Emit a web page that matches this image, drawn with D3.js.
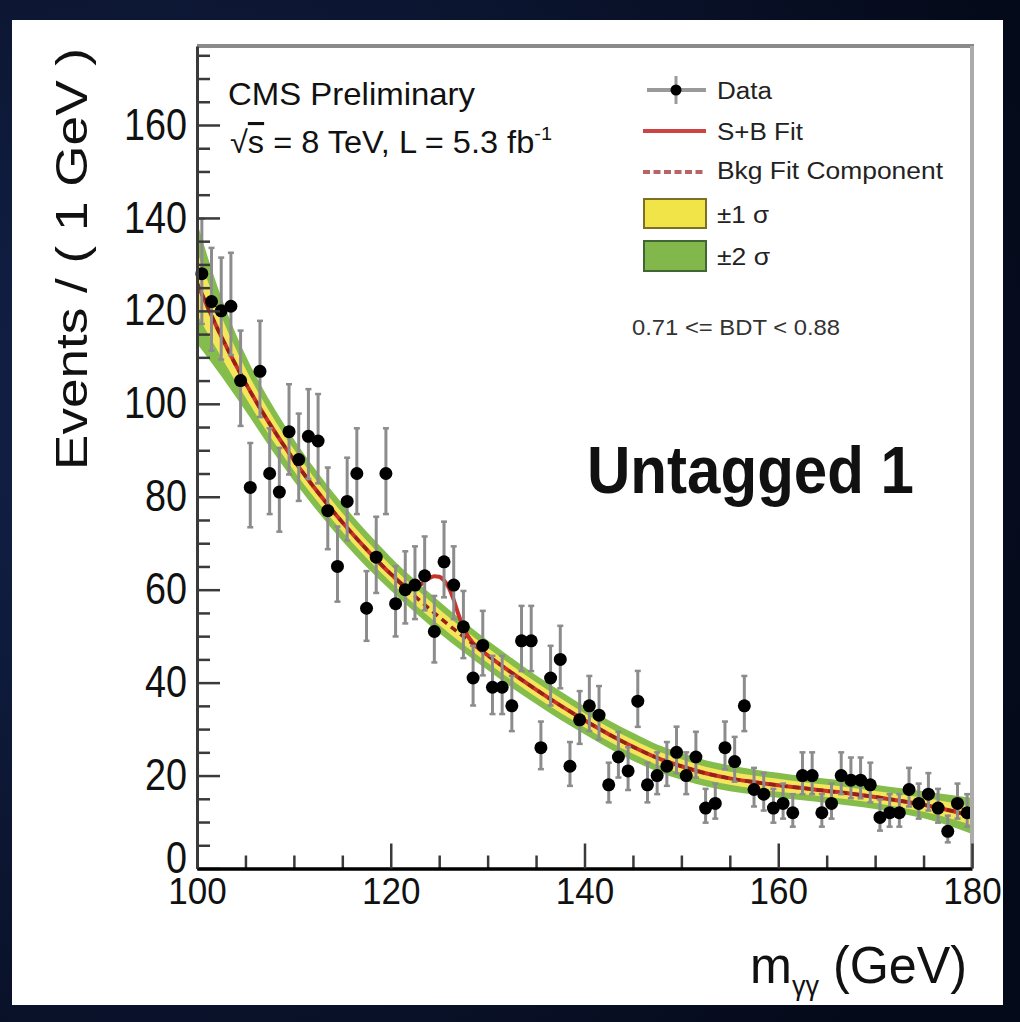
<!DOCTYPE html>
<html>
<head>
<meta charset="utf-8">
<script src="https://cdn.jsdelivr.net/npm/d3@7"></script>
<style>
  html, body { margin: 0; padding: 0; background: #070c20; }
  svg { display: block; }
  text { font-family: "Liberation Sans", Arial, Helvetica, sans-serif; fill: #111; }
</style>
</head>
<body>
<svg id="chart" width="1020" height="1022"></svg>
<script>
// ---- data: diphoton mass spectrum, 1 GeV bins ----
const binCenters = [
  100.5,101.5,102.5,103.5,104.5,105.5,106.5,107.5,108.5,109.5,
  110.5,111.5,112.5,113.5,114.5,115.5,116.5,117.5,118.5,119.5,
  120.5,121.5,122.5,123.5,124.5,125.5,126.5,127.5,128.5,129.5,
  130.5,131.5,132.5,133.5,134.5,135.5,136.5,137.5,138.5,139.5,
  140.5,141.5,142.5,143.5,144.5,145.5,146.5,147.5,148.5,149.5,
  150.5,151.5,152.5,153.5,154.5,155.5,156.5,157.5,158.5,159.5,
  160.5,161.5,162.5,163.5,164.5,165.5,166.5,167.5,168.5,169.5,
  170.5,171.5,172.5,173.5,174.5,175.5,176.5,177.5,178.5,179.5
];
const eventCounts = [
  128,122,120,121,105, 82,107, 85, 81, 94,
   88, 93, 92, 77, 65, 79, 85, 56, 67, 85,
   57, 60, 61, 63, 51, 66, 61, 52, 41, 48,
   39, 39, 35, 49, 49, 26, 41, 45, 22, 32,
   35, 33, 18, 24, 21, 36, 18, 20, 22, 25,
   20, 24, 13, 14, 26, 23, 35, 17, 16, 13,
   14, 12, 20, 20, 12, 14, 20, 19, 19, 18,
   11, 12, 12, 17, 14, 16, 13,  8, 14, 12
];

// background fit component and its uncertainty bands
const fitMass = [100,102.5,105,107.5,110,112.5,115,117.5,120,122.5,125,127.5,130,132.5,135,137.5,
                 140,142.5,145,147.5,150,152.5,155,157.5,160,162.5,165,167.5,170,172.5,175,177.5,180];
const bkgFit = [126,114.5,104.5,95.7,87.9,80.9,74.5,68.7,63.4,58.6,54.1,49.9,45.9,42.1,38.5,35.1,
                31.9,28.9,26.2,23.8,22.0,20.5,19.4,18.6,17.9,17.3,16.7,16.1,15.4,14.6,13.7,12.6,11.3];
const band1Half = [6.8,4.4,3.1,2.6,2.3,2.1,2.0,1.9,1.8,1.8,1.7,1.7,1.6,1.6,1.6,1.6,
                   1.5,1.5,1.5,1.5,1.5,1.4,1.4,1.4,1.4,1.3,1.3,1.3,1.3,1.4,1.5,1.7,2.0];
const band2Half = [13,8.5,6,5,4.5,4.2,4,3.8,3.6,3.5,3.4,3.3,3.2,3.2,3.1,3.1,
                   3.0,3.0,3.0,2.9,2.9,2.8,2.8,2.7,2.7,2.6,2.6,2.6,2.6,2.7,2.9,3.3,3.9];

// signal + background fit in the peak region
const peakMass = [121.5,122,122.5,123,123.5,124,124.5,125,125.5,126,126.5,127,127.5,128,128.5];
const sbPeak   = [60.8,60.6,60.6,61.0,61.8,62.5,62.9,62.8,62.0,60.4,57.8,54.6,51.9,49.9,48.5];

const xTickValues = [100,120,140,160,180];
const yTickValues = [0,20,40,60,80,100,120,140,160];

// ---- layout ----
const svg = d3.select("#chart");
const W = 1020, H = 1022;
const plot = { left: 197, right: 972, top: 46, bottom: 868.5 };

const x = d3.scaleLinear().domain([100, 180]).range([plot.left, plot.right]);
const y = d3.scaleLinear().domain([0, 177]).range([plot.bottom, plot.top]);

const COL = {
  green: "#84bd4b", yellow: "#f4e65a", red: "#c83228", dash: "#94201a",
  err: "#8c8c8c", axis: "#3a3a3a"
};

// dark backdrop with a soft glow
const defs = svg.append("defs");
const bg = defs.append("radialGradient").attr("id", "bgGlow")
  .attr("cx", "15%").attr("cy", "40%").attr("r", "90%");
bg.append("stop").attr("offset", "0%").attr("stop-color", "#13224a");
bg.append("stop").attr("offset", "100%").attr("stop-color", "#050a1a");
svg.append("rect").attr("width", W).attr("height", H).attr("fill", "url(#bgGlow)");

// white canvas
svg.append("rect").attr("x", 12).attr("y", 20).attr("width", 991).attr("height", 985).attr("fill", "#ffffff");

defs.append("clipPath").attr("id", "plotClip").append("rect")
  .attr("x", plot.left).attr("y", plot.top)
  .attr("width", plot.right - plot.left).attr("height", plot.bottom - plot.top);

const g = svg.append("g").attr("clip-path", "url(#plotClip)");

const idx = d3.range(fitMass.length);
const area2 = d3.area().curve(d3.curveMonotoneX)
  .x(i => x(fitMass[i])).y0(i => y(bkgFit[i] - band2Half[i])).y1(i => y(bkgFit[i] + band2Half[i]));
const area1 = d3.area().curve(d3.curveMonotoneX)
  .x(i => x(fitMass[i])).y0(i => y(bkgFit[i] - band1Half[i])).y1(i => y(bkgFit[i] + band1Half[i]));

g.append("path").attr("d", area2(idx)).attr("fill", COL.green);
g.append("path").attr("d", area1(idx)).attr("fill", COL.yellow);

// S+B curve: background outside the peak window, fitted peak inside
const sbPoints = idx.filter(i => fitMass[i] < peakMass[0] || fitMass[i] > peakMass[peakMass.length - 1])
  .map(i => [fitMass[i], bkgFit[i]])
  .concat(peakMass.map((m, i) => [m, sbPeak[i]]))
  .sort((a, b) => a[0] - b[0]);

const line = d3.line().curve(d3.curveMonotoneX).x(d => x(d[0])).y(d => y(d[1]));
g.append("path").attr("d", line(sbPoints)).attr("fill", "none")
  .attr("stroke", COL.red).attr("stroke-width", 4);
g.append("path").attr("d", line(fitMass.map((m, i) => [m, bkgFit[i]]))).attr("fill", "none")
  .attr("stroke", COL.dash).attr("stroke-width", 3.5).attr("stroke-dasharray", "7,5");

// data points with Poisson-style error bars
const pts = svg.append("g");
binCenters.forEach((m, i) => {
  const n = eventCounts[i];
  const s = Math.sqrt(n + 0.25);
  const lo = n - (s - 0.5), hi = n + (s + 0.5);
  const cx = x(m);
  pts.append("line").attr("x1", cx).attr("x2", cx).attr("y1", y(lo)).attr("y2", y(hi))
    .attr("stroke", COL.err).attr("stroke-width", 3);
  [lo, hi].forEach(v => pts.append("line").attr("x1", cx - 3).attr("x2", cx + 3)
    .attr("y1", y(v)).attr("y2", y(v)).attr("stroke", COL.err).attr("stroke-width", 2.5));
});
pts.selectAll("circle").data(binCenters).join("circle")
  .attr("cx", d => x(d)).attr("cy", (d, i) => y(eventCounts[i])).attr("r", 6.5).attr("fill", "#000");

// frame (top and right)
svg.append("line").attr("x1", plot.left).attr("x2", plot.right + 2).attr("y1", plot.top).attr("y2", plot.top)
  .attr("stroke", "#8a8a8a").attr("stroke-width", 4);
svg.append("line").attr("x1", plot.right).attr("x2", plot.right).attr("y1", plot.top).attr("y2", plot.bottom)
  .attr("stroke", "#ababab").attr("stroke-width", 4);

// axes with inward ticks
const yMinor = d3.range(0, 177, 5).filter(v => v % 20 !== 0);
const xMinor = d3.range(100, 181, 5).filter(v => v % 20 !== 0);

const yMinorAxis = svg.append("g").attr("transform", `translate(${plot.left},0)`)
  .call(d3.axisLeft(y).tickValues(yMinor).tickSizeInner(-13).tickSizeOuter(0).tickFormat(""));
yMinorAxis.select(".domain").remove();
const yAxis = svg.append("g").attr("transform", `translate(${plot.left},0)`)
  .call(d3.axisLeft(y).tickValues(yTickValues).tickSizeInner(-23).tickSizeOuter(0).tickPadding(10)
    .tickFormat(d3.format("d")));
yAxis.select(".domain").attr("stroke", COL.axis).attr("stroke-width", 3);

const xMinorAxis = svg.append("g").attr("transform", `translate(0,${plot.bottom})`)
  .call(d3.axisBottom(x).tickValues(xMinor).tickSizeInner(-13).tickSizeOuter(0).tickFormat(""));
xMinorAxis.select(".domain").remove();
const xAxis = svg.append("g").attr("transform", `translate(0,${plot.bottom})`)
  .call(d3.axisBottom(x).tickValues(xTickValues).tickSizeInner(-25).tickSizeOuter(0).tickPadding(9)
    .tickFormat(d3.format("d")));
xAxis.select(".domain").attr("stroke", "#000").attr("stroke-width", 3.5);

svg.selectAll(".tick line").attr("stroke", COL.axis).attr("stroke-width", 2.5);
yAxis.selectAll("text").attr("font-size", 44).attr("fill", "#111")
  .attr("font-family", "Liberation Sans, Arial, sans-serif")
  .attr("textLength", d => 21 * String(d).length).attr("lengthAdjust", "spacingAndGlyphs");
// the zero label sits a little above its tick, clear of the first mass label
yAxis.selectAll("text").filter(d => d === 0).attr("dy", "0.1em");
xAxis.selectAll("text").attr("font-size", 37).attr("fill", "#111")
  .attr("font-family", "Liberation Sans, Arial, sans-serif")
  .attr("textLength", d => 19.5 * String(d).length).attr("lengthAdjust", "spacingAndGlyphs");

// axis titles
svg.append("text").attr("transform", "translate(87,48) rotate(-90)")
  .attr("text-anchor", "end").attr("font-size", 45)
  .attr("textLength", 422).attr("lengthAdjust", "spacingAndGlyphs")
  .text("Events / ( 1 GeV )");

const xt = svg.append("text").attr("x", 750).attr("y", 983).attr("font-size", 52)
  .attr("textLength", 217).attr("lengthAdjust", "spacingAndGlyphs");
xt.append("tspan").text("m");
xt.append("tspan").attr("font-size", 28).attr("dy", 12).text("γγ");
xt.append("tspan").attr("dy", -12).text(" (GeV)");

// annotations
svg.append("text").attr("x", 228).attr("y", 105).attr("font-size", 32)
  .attr("textLength", 247).attr("lengthAdjust", "spacingAndGlyphs").text("CMS Preliminary");
const en = svg.append("text").attr("x", 230).attr("y", 153).attr("font-size", 31)
  .attr("textLength", 322).attr("lengthAdjust", "spacingAndGlyphs");
en.append("tspan").text("√");
en.append("tspan").style("text-decoration", "overline").text("s");
en.append("tspan").text(" = 8 TeV, L = 5.3 fb");
en.append("tspan").attr("font-size", 19).attr("dy", -13).text("-1");

svg.append("text").attr("x", 632).attr("y", 335).attr("font-size", 22).style("fill", "#333")
  .attr("textLength", 208).attr("lengthAdjust", "spacingAndGlyphs").text("0.71 <= BDT < 0.88");
svg.append("text").attr("x", 587).attr("y", 493).attr("font-size", 67).attr("font-weight", "bold")
  .attr("textLength", 327).attr("lengthAdjust", "spacingAndGlyphs").text("Untagged 1");

// legend
const lg = svg.append("g");
const legendText = [
  { label: "Data", y: 98.5, w: 55 },
  { label: "S+B Fit", y: 140, w: 86 },
  { label: "Bkg Fit Component", y: 179, w: 226 },
  { label: "±1 σ", y: 222.5, w: 52 },
  { label: "±2 σ", y: 265, w: 53 }
];
legendText.forEach(d => lg.append("text").attr("x", 717).attr("y", d.y).attr("font-size", 23)
  .style("fill", "#222").attr("textLength", d.w).attr("lengthAdjust", "spacingAndGlyphs").text(d.label));

lg.append("line").attr("x1", 647).attr("x2", 706).attr("y1", 90).attr("y2", 90)
  .attr("stroke", "#9a9a9a").attr("stroke-width", 4);
lg.append("line").attr("x1", 676).attr("x2", 676).attr("y1", 76).attr("y2", 104)
  .attr("stroke", "#9a9a9a").attr("stroke-width", 3);
lg.append("circle").attr("cx", 676).attr("cy", 90).attr("r", 5.5).attr("fill", "#000");
lg.append("line").attr("x1", 643).attr("x2", 706).attr("y1", 131).attr("y2", 131)
  .attr("stroke", "#cc4444").attr("stroke-width", 4);
lg.append("line").attr("x1", 643).attr("x2", 706).attr("y1", 172).attr("y2", 172)
  .attr("stroke", "#b86464").attr("stroke-width", 4).attr("stroke-dasharray", "7,3.5");
lg.append("rect").attr("x", 644).attr("y", 199).attr("width", 62).attr("height", 29)
  .attr("fill", "#f1e449").attr("stroke", "#7d7026").attr("stroke-width", 2);
lg.append("rect").attr("x", 644).attr("y", 241).attr("width", 62).attr("height", 30)
  .attr("fill", "#82b84b").attr("stroke", "#3f6634").attr("stroke-width", 2);
</script>
</body>
</html>
